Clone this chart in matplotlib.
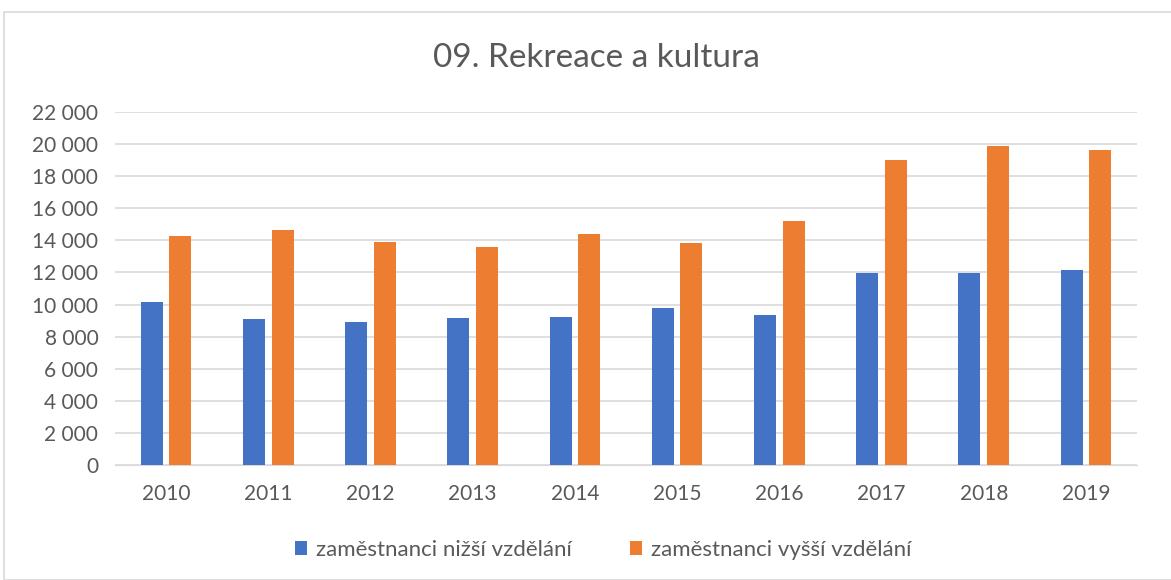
import matplotlib.pyplot as plt
import matplotlib.ticker as mticker
import numpy as np

years = ["2010", "2011", "2012", "2013", "2014", "2015", "2016", "2017", "2018", "2019"]
nizsi = [10140, 9110, 8940, 9170, 9250, 9800, 9330, 11990, 11990, 12140]
vyssi = [14300, 14620, 13900, 13590, 14370, 13810, 15180, 18980, 19860, 19610]
labels = ["zaměstnanci nižší vzdělání", "zaměstnanci vyšší vzdělání"]

plt.rcParams["font.family"] = ["Lato", "DejaVu Sans"]
txt = "#595959"

fig = plt.figure(figsize=(11.71, 5.8), dpi=100)
ax = fig.add_axes([115 / 1171, 1 - 465 / 580, 1022 / 1171, 353 / 580])

x = np.arange(len(years))
w = 0.215
ax.bar(x - 0.14, nizsi, w, color="#4472C4", label=labels[0], zorder=3)
ax.bar(x + 0.14, vyssi, w, color="#ED7D31", label=labels[1], zorder=3)

ax.set_xlim(-0.5, len(years) - 0.5)
ax.set_ylim(0, 22000)
ax.yaxis.set_major_locator(mticker.MultipleLocator(2000))
ax.yaxis.set_major_formatter(mticker.FuncFormatter(lambda v, p: f"{int(v):,}".replace(",", " ")))
ax.set_xticks(x)
ax.set_xticklabels(years)
ax.grid(axis="y", color="#D9D9D9", linewidth=1.2, zorder=0)
for s in ["top", "right", "left"]:
    ax.spines[s].set_visible(False)
ax.spines["bottom"].set_color("#D9D9D9")
ax.tick_params(length=0, labelsize=15, colors=txt)
ax.tick_params(axis="x", pad=14)
ax.tick_params(axis="y", pad=12)

fig.text(596 / 1171, 1 - 58 / 580, "09. Rekreace a kultura", ha="center", va="center", fontsize=24, color=txt)

fig.legend(loc="center", bbox_to_anchor=(603 / 1171, 1 - 550 / 580), ncol=2, frameon=False,
           fontsize=16, labelcolor=txt, handlelength=0.55, handleheight=0.55,
           handletextpad=0.4, columnspacing=2.6)

fig.patches.append(plt.Rectangle((4 / 1171, 0), 1.2, 1 - 12 / 580, transform=fig.transFigure,
                                 fill=False, edgecolor="#D9D9D9", linewidth=1.2))

fig.savefig("out.png", dpi=100)
